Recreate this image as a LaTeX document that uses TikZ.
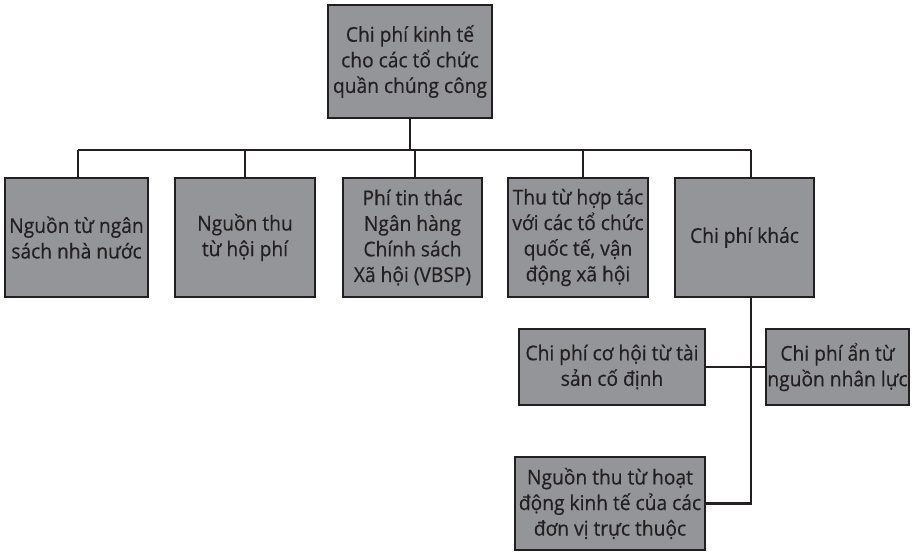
\documentclass[tikz,border=0pt]{standalone}
\usepackage{fontspec}
\setmainfont[FakeStretch=0.94,FakeBold=0.4]{Open Sans}
\definecolor{boxgray}{HTML}{939598}
\definecolor{ink}{HTML}{231F20}
\begin{document}
\begin{tikzpicture}[x=1bp,y=-1bp,
  box/.style={draw=ink,fill=boxgray,line width=2.8bp,text=ink,align=center,inner sep=0pt,
    font=\fontsize{20.5}{25.7}\selectfont},
  link/.style={draw=ink,line width=2.6bp}]
\useasboundingbox (0,0) rectangle (912,552);
\node[box,minimum width=164bp,minimum height=113bp] (top) at (410,61.5) {Chi phí kinh tế\\cho các tổ chức\\quần chúng công};
\node[box,minimum width=143bp,minimum height=119bp] (b1) at (76.5,237.5) {Nguồn từ ngân\\sách nhà nước};
\node[box,minimum width=140bp,minimum height=119bp] (b2) at (245,237.5) {Nguồn thu\\từ hội phí};
\node[box,minimum width=139bp,minimum height=119bp] (b3) at (412.5,237.5) {Phí tin thác\\Ngân hàng\\Chính sách\\Xã hội (VBSP)};
\node[box,minimum width=140bp,minimum height=119bp] (b4) at (578,237.5) {Thu từ hợp tác\\với các tổ chức\\quốc tế, vận\\động xã hội};
\node[box,minimum width=139bp,minimum height=119bp] (b5) at (744.5,237.5) {Chi phí khác};
\node[box,minimum width=186bp,minimum height=76bp] (b6) at (612,367) {Chi phí cơ hội từ tài\\sản cố định};
\node[box,minimum width=143bp,minimum height=76bp] (b7) at (837.5,367) {Chi phí ẩn từ\\nguồn nhân lực};
\node[box,minimum width=190bp,minimum height=93bp] (b8) at (610,503.5) {Nguồn thu từ hoạt\\động kinh tế của các\\đơn vị trực thuộc};
\coordinate (busL) at (78,150);
\coordinate (busR) at (751,150);
\draw[link] (top.south) -- (top.south |- busL);
\draw[link] (busL) -- (busR);
\draw[link] (busL) -- (busL |- b1.north);
\draw[link] (b2.north |- busL) -- (b2.north);
\draw[link] (415,150) -- (415,178);
\draw[link] (583,150) -- (583,178);
\draw[link] (busR) -- (busR |- b5.north);
\coordinate (trunk) at (751,297);
\draw[link] (trunk) -- (trunk |- b8.east) -- (b8.east);
\draw[link] (b6.east) -- (b7.west);
\end{tikzpicture}
\end{document}
